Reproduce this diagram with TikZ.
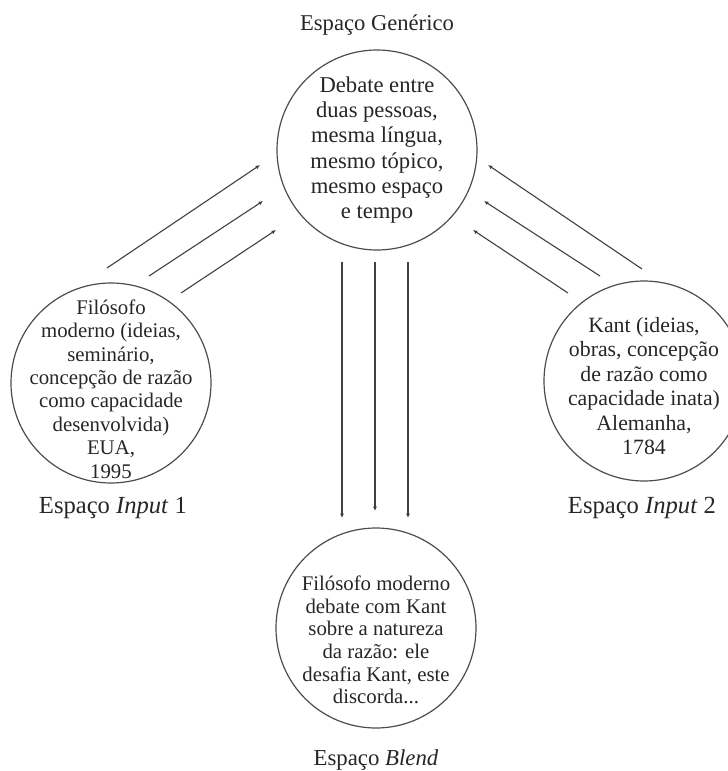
\documentclass[tikz,border=0pt]{standalone}
\usepackage{fontspec}
\setmainfont{Liberation Serif}
\usetikzlibrary{arrows.meta,positioning}

\begin{document}
\begin{tikzpicture}[
    x=0.5pt, y=-0.5pt,
    bubble/.style={circle, draw=black!70, line width=0.6pt, minimum size=100pt, inner sep=0pt},
    txt/.style={align=center, text=black!85, inner sep=0pt},
    arr/.style={-{Latex[length=2.2pt,width=2pt]}, draw=black!75, line width=0.55pt}
]
    \useasboundingbox (0,0) rectangle (728,771);

    % the four spaces
    \node[bubble] (generic) at (377,150) {};
    \node[bubble] (input1) at (111,383) {};
    \node[bubble] (input2) at (644,381) {};
    \node[bubble] (blend) at (376,628) {};

    \node[txt, font=\fontsize{11.3}{12.6}\selectfont] (genT) at (generic) {Debate entre\\duas pessoas,\\mesma língua,\\mesmo tópico,\\mesmo espaço\\e tempo};
    \node[txt, font=\fontsize{10.4}{11.7}\selectfont] (in1T) at (111,389) {Filósofo\\moderno (ideias,\\seminário,\\concepção de razão\\como capacidade\\desenvolvida)\\EUA,\\1995};
    \node[txt, font=\fontsize{10.9}{12.2}\selectfont] (in2T) at (644,386) {Kant (ideias,\\obras, concepção\\de razão como\\capacidade inata)\\Alemanha,\\1784};
    \node[txt, font=\fontsize{10.4}{11.3}\selectfont] (blendT) at (376,640) {Filósofo moderno\\debate com Kant\\sobre a natureza\\da razão: ele\\desafia Kant, este\\discorda...};

    % labels
    \node[txt, font=\fontsize{11.3}{13}\selectfont] (genL) at (377,25) {Espaço Genérico};
    \node[txt, font=\fontsize{12.3}{14}\selectfont] (in1L) at (113,508) {Espaço \textit{Input} 1};
    \node[txt, font=\fontsize{12.3}{14}\selectfont] (in2L) at (642,508) {Espaço \textit{Input} 2};
    \node[txt, font=\fontsize{11.4}{13}\selectfont] (blendL) at (376,760) {Espaço \textit{Blend}};

    % projections to the generic space
    \foreach \i/\sx/\sy/\ex/\ey in {1/107/268/260/165, 2/149/276/263/201, 3/181/293/276/230} {
        \coordinate (inA\i) at (\sx,\sy);
        \coordinate (genA\i) at (\ex,\ey);
        \draw[arr] (inA\i) -- (genA\i);
    }
    \foreach \i/\sx/\sy/\ex/\ey in {1/642/269/488/165, 2/600/276/484/201, 3/568/293/473/230} {
        \coordinate (inB\i) at (\sx,\sy);
        \coordinate (genB\i) at (\ex,\ey);
        \draw[arr] (inB\i) -- (genB\i);
    }

    % projections to the blend
    \foreach \i/\x/\e in {1/342/518, 2/375/511, 3/408/518} {
        \coordinate (genC\i) at (\x,262);
        \coordinate (blendC\i) at (\x,\e);
        \draw[arr] (genC\i) -- (blendC\i);
    }

\end{tikzpicture}
\end{document}
